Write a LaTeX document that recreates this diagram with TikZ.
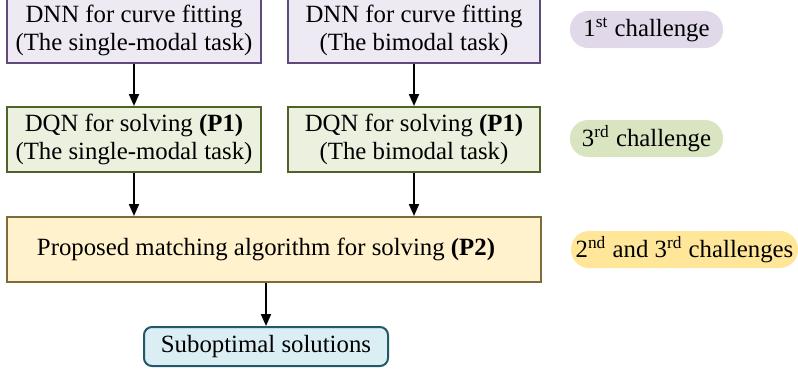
\documentclass[tikz,border=0pt]{standalone}
\usepackage{fontspec}
\setmainfont{Liberation Serif}
\usepackage{xcolor}
\usetikzlibrary{arrows.meta}
\definecolor{dnnfill}{HTML}{EEEAF4}
\definecolor{dnnline}{HTML}{604A7B}
\definecolor{dqnfill}{HTML}{EBF1DE}
\definecolor{dqnline}{HTML}{4F6228}
\definecolor{algfill}{HTML}{FFF2CC}
\definecolor{algline}{HTML}{7F6A3A}
\definecolor{solfill}{HTML}{DAEEF3}
\definecolor{solline}{HTML}{215968}
\definecolor{pillone}{HTML}{E1D9EA}
\definecolor{pilltwo}{HTML}{D9E5C1}
\definecolor{pillthree}{HTML}{FFE699}
\tikzset{>={Triangle[length=6pt,width=5pt]}}
\tikzset{
	taskbox/.style={draw, line width=1pt, align=center, inner sep=0pt,
			font=\rmfamily\fontsize{12.4}{14}\selectfont},
	pill/.style={rounded corners=9pt, inner sep=0pt, align=center,
			font=\rmfamily\fontsize{12.4}{14}\selectfont}
}

\begin{document}
\begin{tikzpicture}[x=0.5pt, y=-0.5pt]
		\useasboundingbox (0,0) rectangle (798,372);
		\node[taskbox, fill=dnnfill, draw=dnnline, minimum width=127pt, minimum height=32.5pt] (dnnA) at (134,30) {DNN for curve fitting\\(The single-modal task)};
		\node[taskbox, fill=dnnfill, draw=dnnline, minimum width=126pt, minimum height=32.5pt] (dnnB) at (414,30) {DNN for curve fitting\\(The bimodal task)};
		\node[taskbox, fill=dqnfill, draw=dqnline, minimum width=127pt, minimum height=32.5pt] (dqnA) at (134,139.5) {DQN for solving \textbf{(P1)}\\(The single-modal task)};
		\node[taskbox, fill=dqnfill, draw=dqnline, minimum width=126pt, minimum height=32.5pt] (dqnB) at (414,139.5) {DQN for solving \textbf{(P1)}\\(The bimodal task)};
		\node[taskbox, fill=algfill, draw=algline, minimum width=267pt, minimum height=32.5pt] (alg) at (274,249.5) {Proposed matching algorithm for solving \textbf{(P2)}\hspace{8pt}};
		\node[taskbox, fill=solfill, draw=solline, rounded corners=4pt, minimum width=122pt, minimum height=19.5pt] (sol) at (266,346.5) {Suboptimal solutions};
		\node[pill, fill=pillone, minimum width=76.5pt, minimum height=18.5pt] (chA) at (646.5,29.5) {1\textsuperscript{st} challenge};
		\node[pill, fill=pilltwo, minimum width=76.5pt, minimum height=18.5pt] (chB) at (646.5,138.5) {3\textsuperscript{rd} challenge};
		\node[pill, fill=pillthree, minimum width=113.5pt, minimum height=18.5pt] (chC) at (684.5,249.5) {2\textsuperscript{nd} and 3\textsuperscript{rd} challenges};
		\draw[->, line width=1pt] (dnnA) -- (dqnA);
		\draw[->, line width=1pt] (dnnB) -- (dqnB);
		\draw[->, line width=1pt] (dqnA) -- (dqnA|-alg.north);
		\draw[->, line width=1pt] (dqnB) -- (dqnB|-alg.north);
		\draw[->, line width=1pt] (sol|-alg.south) -- (sol);
	\end{tikzpicture}
\end{document}
